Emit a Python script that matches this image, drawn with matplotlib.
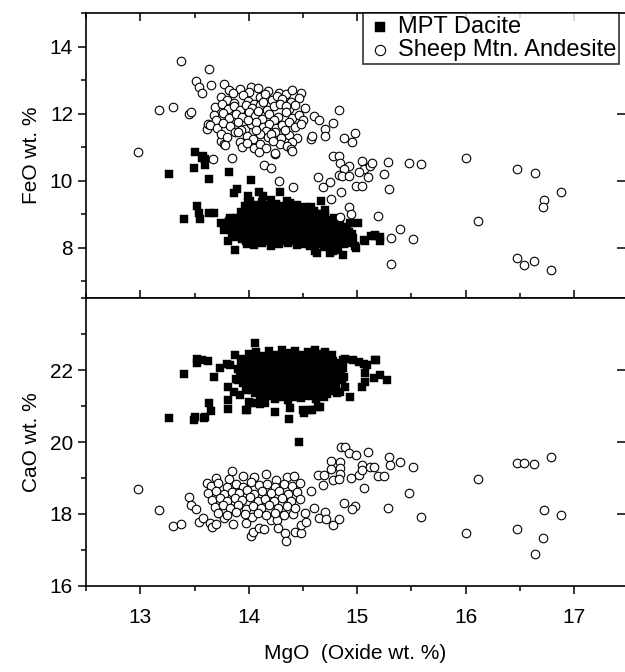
import matplotlib
matplotlib.use('Agg')
import matplotlib.pyplot as plt
from matplotlib.ticker import MultipleLocator

plt.rcParams['font.family'] = ['Liberation Sans', 'DejaVu Sans']

# MPT Dacite, FeO vs MgO
dacite_fe = [
    (13.50, 10.86), (13.58, 10.75), (13.60, 10.65), (13.57, 10.68), (13.60, 10.48), (13.49, 10.38),
    (13.26, 10.20), (13.63, 10.06), (13.82, 10.25), (14.02, 10.03), (13.86, 9.63), (13.89, 9.75),
    (13.99, 9.53), (14.09, 9.65), (14.13, 9.55), (14.29, 9.65), (13.40, 8.86), (13.52, 9.23),
    (13.54, 9.04), (13.55, 8.86), (13.63, 9.04), (13.68, 9.04), (13.74, 8.74), (13.81, 8.19),
    (13.87, 7.92), (13.83, 8.89), (13.89, 8.64), (13.92, 8.44), (13.98, 8.93), (14.67, 9.38),
    (14.70, 9.13), (14.93, 8.74), (15.01, 8.74), (14.98, 8.04), (15.07, 8.19), (15.13, 8.36),
    (15.21, 8.32), (15.21, 8.19), (14.87, 7.79), (14.81, 7.94), (14.63, 7.84), (14.75, 7.84),
    (15.06, 8.24), (15.16, 8.34), (14.61, 7.89), (14.78, 7.89), (14.99, 7.99), (15.16, 8.39),
    (14.01, 9.40), (13.96, 9.25),
    (13.99, 9.32), (14.05, 9.26), (14.12, 9.35), (14.18, 9.28), (14.25, 9.30), (14.31, 9.24),
    (14.38, 9.33), (14.44, 9.27), (14.52, 9.22), (14.20, 9.42), (14.35, 9.40),
    (14.02, 9.20), (14.09, 9.18), (14.15, 9.22), (14.21, 9.19), (14.28, 9.21), (14.34, 9.17),
    (14.41, 9.20), (14.47, 9.18), (14.57, 9.20),
    (13.93, 9.08), (14.00, 9.14), (14.06, 9.05), (14.12, 9.12), (14.18, 9.03), (14.24, 9.15),
    (14.30, 9.06), (14.36, 9.12), (14.42, 9.02), (14.48, 9.10), (14.54, 9.04), (14.60, 9.11),
    (14.66, 9.00),
    (13.96, 8.98), (14.03, 9.01), (14.09, 8.97), (14.15, 9.02), (14.21, 8.99), (14.27, 9.00),
    (14.33, 8.98), (14.39, 9.02), (14.45, 8.97), (14.51, 9.00), (14.57, 8.98), (14.63, 9.02),
    (14.70, 8.98),
    (13.88, 8.90), (13.95, 8.84), (14.01, 8.93), (14.07, 8.86), (14.13, 8.95), (14.19, 8.88),
    (14.25, 8.82), (14.31, 8.94), (14.37, 8.85), (14.43, 8.92), (14.49, 8.83), (14.55, 8.90),
    (14.61, 8.86), (14.67, 8.93), (14.73, 8.84), (14.79, 8.88),
    (13.82, 8.80), (13.91, 8.79), (13.98, 8.81), (14.04, 8.78), (14.10, 8.80), (14.16, 8.79),
    (14.22, 8.81), (14.28, 8.78), (14.34, 8.80), (14.40, 8.79), (14.46, 8.81), (14.52, 8.78),
    (14.58, 8.80), (14.64, 8.79), (14.70, 8.81), (14.76, 8.78), (14.84, 8.80),
    (13.79, 8.70), (13.85, 8.76), (13.92, 8.66), (13.98, 8.73), (14.04, 8.64), (14.10, 8.72),
    (14.16, 8.67), (14.22, 8.75), (14.28, 8.65), (14.34, 8.71), (14.40, 8.63), (14.46, 8.74),
    (14.52, 8.66), (14.58, 8.70), (14.64, 8.62), (14.70, 8.72), (14.76, 8.65), (14.82, 8.70),
    (14.88, 8.62),
    (13.81, 8.60), (13.88, 8.58), (13.95, 8.61), (14.01, 8.59), (14.07, 8.60), (14.13, 8.58),
    (14.19, 8.61), (14.25, 8.59), (14.31, 8.60), (14.37, 8.58), (14.43, 8.61), (14.49, 8.59),
    (14.55, 8.60), (14.61, 8.58), (14.67, 8.61), (14.73, 8.59), (14.79, 8.60), (14.85, 8.58),
    (14.91, 8.57),
    (13.77, 8.52), (13.84, 8.45), (13.90, 8.54), (13.96, 8.47), (14.02, 8.56), (14.08, 8.44),
    (14.14, 8.52), (14.20, 8.46), (14.26, 8.55), (14.32, 8.48), (14.38, 8.53), (14.44, 8.43),
    (14.50, 8.51), (14.56, 8.46), (14.62, 8.54), (14.68, 8.44), (14.74, 8.50), (14.80, 8.45),
    (14.86, 8.52), (14.92, 8.47),
    (13.88, 8.40), (13.93, 8.38), (13.99, 8.41), (14.05, 8.39), (14.11, 8.40), (14.17, 8.38),
    (14.23, 8.41), (14.29, 8.39), (14.35, 8.40), (14.41, 8.38), (14.47, 8.41), (14.53, 8.39),
    (14.59, 8.40), (14.65, 8.38), (14.71, 8.41), (14.77, 8.39), (14.83, 8.40), (14.89, 8.38),
    (14.95, 8.41),
    (13.86, 8.32), (13.94, 8.27), (14.00, 8.35), (14.06, 8.25), (14.12, 8.31), (14.18, 8.24),
    (14.24, 8.33), (14.30, 8.26), (14.36, 8.30), (14.42, 8.22), (14.48, 8.34), (14.54, 8.27),
    (14.60, 8.31), (14.66, 8.23), (14.72, 8.29), (14.78, 8.24), (14.84, 8.32), (14.90, 8.26),
    (14.96, 8.30),
    (13.97, 8.20), (14.03, 8.18), (14.09, 8.21), (14.15, 8.19), (14.21, 8.20), (14.27, 8.18),
    (14.33, 8.21), (14.39, 8.19), (14.45, 8.20), (14.51, 8.18), (14.57, 8.21), (14.63, 8.19),
    (14.69, 8.20), (14.75, 8.18), (14.81, 8.21), (14.87, 8.19), (14.93, 8.20),
    (13.98, 8.12), (14.05, 8.08), (14.12, 8.14), (14.20, 8.06), (14.28, 8.11), (14.36, 8.13),
    (14.44, 8.07), (14.50, 8.12), (14.56, 8.04), (14.63, 8.10), (14.69, 8.02), (14.75, 8.08),
    (14.82, 8.00), (14.88, 8.10), (14.94, 8.14),
]

# Sheep Mtn. Andesite, FeO vs MgO
andesite_fe = [
    (12.98, 10.86), (13.17, 12.12), (13.30, 12.19), (13.37, 13.56), (13.45, 12.00), (13.47, 12.05),
    (13.51, 12.96), (13.54, 12.80), (13.57, 12.61), (13.63, 13.33), (13.65, 12.84), (13.77, 12.87),
    (13.82, 12.69), (13.92, 12.74), (14.02, 12.79), (14.08, 12.76), (14.28, 12.62), (14.34, 12.57),
    (14.48, 12.60), (14.83, 12.11), (14.78, 11.71), (14.70, 11.54), (14.70, 11.34), (14.88, 11.26),
    (14.95, 11.15), (14.98, 11.42), (14.60, 11.93), (14.65, 11.82), (14.57, 11.24), (14.58, 11.32),
    (13.84, 10.67), (13.67, 10.64), (14.14, 10.48), (14.20, 10.38), (14.28, 9.98), (14.41, 9.82),
    (14.24, 10.80), (13.61, 11.54), (13.62, 11.70), (13.74, 11.17), (13.77, 11.10), (13.92, 11.15),
    (14.78, 10.73), (14.83, 10.73), (14.84, 10.53), (14.92, 10.43), (14.88, 10.35), (14.83, 10.18),
    (14.86, 10.13), (14.92, 10.15), (15.04, 10.58), (15.06, 10.35), (15.12, 10.45), (15.14, 10.53),
    (15.02, 10.26), (15.10, 10.11), (15.28, 10.55), (15.25, 10.21), (15.48, 10.52), (15.59, 10.50),
    (15.29, 9.74), (14.99, 9.85), (15.04, 9.83), (14.64, 10.10), (14.75, 9.95), (14.68, 9.80),
    (14.85, 9.65), (14.76, 9.45), (14.92, 9.21), (14.94, 9.01), (14.84, 8.92), (15.19, 8.96),
    (15.39, 8.55), (15.31, 8.30), (15.51, 8.25), (15.31, 7.50), (16.00, 10.67), (16.47, 10.34),
    (16.64, 10.22), (16.88, 9.67), (16.72, 9.41), (16.71, 9.20), (16.11, 8.81), (16.47, 7.68),
    (16.54, 7.48), (16.63, 7.60), (16.79, 7.34),
    (13.85, 12.62), (14.00, 12.65), (14.18, 12.68), (14.40, 12.70), (14.24, 12.32),
    (13.74, 12.50), (13.80, 12.41), (13.95, 12.55), (13.99, 12.38), (14.10, 12.48), (14.15, 12.58),
    (14.21, 12.40), (14.26, 12.52), (14.31, 12.44), (14.39, 12.35), (14.46, 12.47), (13.86, 12.33),
    (14.05, 12.30),
    (13.69, 12.20), (13.75, 12.28), (13.81, 12.15), (13.86, 12.24), (13.92, 12.12), (13.97, 12.27),
    (14.03, 12.18), (14.10, 12.25), (14.17, 12.10), (14.23, 12.22), (14.29, 12.30), (14.37, 12.14),
    (14.43, 12.26), (14.52, 12.18), (14.13, 12.36), (14.34, 12.22),
    (13.68, 11.95), (13.76, 12.03), (13.82, 11.88), (13.88, 11.99), (13.94, 11.90), (14.00, 12.04),
    (14.06, 11.93), (14.12, 11.85), (14.19, 12.00), (14.27, 11.91), (14.34, 12.05), (14.40, 11.87),
    (14.46, 11.97), (14.08, 12.08), (14.23, 11.80), (13.70, 11.80), (14.50, 11.80),
    (13.64, 11.66), (13.71, 11.58), (13.76, 11.72), (13.83, 11.62), (13.90, 11.75), (13.96, 11.55),
    (14.02, 11.68), (14.07, 11.76), (14.13, 11.60), (14.19, 11.70), (14.25, 11.57), (14.31, 11.66),
    (14.37, 11.74), (14.43, 11.59), (14.48, 11.68), (13.99, 11.81), (14.16, 11.48),
    (13.74, 11.38), (13.80, 11.30), (13.87, 11.44), (13.98, 11.33), (14.04, 11.25), (14.10, 11.40),
    (14.18, 11.30), (14.24, 11.45), (14.30, 11.28), (14.37, 11.37), (14.44, 11.26), (13.93, 11.50),
    (14.07, 11.50), (14.33, 11.50), (13.90, 11.45), (14.20, 11.38), (14.40, 11.15),
    (13.78, 11.05), (13.94, 11.00), (13.98, 11.12), (14.05, 10.98), (14.10, 11.08), (14.16, 10.96),
    (14.29, 11.10), (14.35, 11.02), (14.39, 10.94), (14.22, 11.18),
    (14.09, 10.85), (14.24, 10.82), (14.40, 10.88),
]

# MPT Dacite, CaO vs MgO (bottom panel)
dacite_ca = [
    (14.06, 22.74), (13.40, 21.89), (13.26, 20.66), (13.49, 20.61), (13.50, 20.70), (13.59, 20.66),
    (13.60, 20.70), (13.63, 21.07), (13.65, 20.86), (13.52, 22.32), (13.52, 22.20), (13.57, 22.28),
    (13.62, 22.25), (13.68, 21.80), (13.73, 22.05), (13.80, 22.18), (13.87, 22.42), (13.81, 21.54),
    (13.81, 21.17), (13.81, 20.91), (13.97, 20.89), (14.01, 21.07), (14.10, 21.06), (14.24, 20.84),
    (14.37, 20.65), (14.46, 20.01), (14.51, 20.81), (14.56, 20.89), (14.64, 20.96), (14.93, 21.24),
    (14.87, 22.28), (14.96, 22.28), (15.06, 22.17), (15.16, 22.28), (15.07, 21.93), (15.15, 21.77),
    (15.04, 21.54), (15.07, 21.68), (15.17, 22.28), (15.21, 21.86), (15.27, 21.72), (14.89, 22.32),
    (15.02, 22.23), (15.09, 22.14), (14.89, 21.54), (14.84, 21.40), (14.61, 22.56), (14.72, 22.37),
    (14.38, 20.94), (14.50, 20.89), (14.58, 20.89), (14.66, 20.98), (14.81, 21.35), (13.92, 21.30),
    (13.88, 21.75), (13.95, 22.30), (13.83, 22.14), (13.86, 21.40), (13.90, 21.72), (13.97, 21.44),
    (14.00, 21.12), (14.07, 21.07), (14.15, 21.07), (13.98, 20.89), (14.01, 22.32), (14.10, 22.32),
    (14.00, 22.44), (14.07, 22.50), (14.13, 22.40), (14.19, 22.52), (14.25, 22.43), (14.31, 22.55),
    (14.37, 22.46), (14.43, 22.52), (14.49, 22.41), (14.55, 22.49), (14.63, 22.44), (14.70, 22.50),
    (14.77, 22.42),
    (14.03, 22.36), (14.09, 22.34), (14.15, 22.37), (14.21, 22.35), (14.27, 22.36), (14.33, 22.34),
    (14.39, 22.37), (14.45, 22.35), (14.51, 22.36), (14.57, 22.34), (14.66, 22.35), (14.75, 22.34),
    (13.93, 22.22), (13.99, 22.28), (14.05, 22.20), (14.11, 22.30), (14.17, 22.23), (14.23, 22.29),
    (14.29, 22.19), (14.35, 22.27), (14.41, 22.21), (14.47, 22.30), (14.53, 22.24), (14.59, 22.18),
    (14.65, 22.28), (14.71, 22.22), (14.78, 22.26), (14.84, 22.19),
    (13.96, 22.15), (14.02, 22.13), (14.08, 22.16), (14.14, 22.14), (14.20, 22.15), (14.26, 22.13),
    (14.32, 22.16), (14.38, 22.14), (14.44, 22.15), (14.50, 22.13), (14.56, 22.16), (14.62, 22.14),
    (14.68, 22.15), (14.75, 22.13), (14.81, 22.12),
    (13.90, 22.02), (13.96, 22.08), (14.02, 22.00), (14.08, 22.09), (14.14, 22.03), (14.20, 21.98),
    (14.26, 22.07), (14.32, 22.01), (14.38, 22.10), (14.44, 22.02), (14.50, 22.06), (14.56, 21.99),
    (14.62, 22.08), (14.68, 22.03), (14.74, 22.09), (14.80, 22.00), (14.87, 22.05),
    (13.95, 21.95), (14.01, 21.93), (14.07, 21.96), (14.13, 21.94), (14.19, 21.95), (14.25, 21.93),
    (14.31, 21.96), (14.37, 21.94), (14.43, 21.95), (14.49, 21.93), (14.55, 21.96), (14.61, 21.94),
    (14.67, 21.95), (14.73, 21.93), (14.79, 21.96), (14.85, 21.94),
    (13.92, 21.84), (13.98, 21.90), (14.04, 21.81), (14.10, 21.88), (14.16, 21.80), (14.22, 21.91),
    (14.28, 21.83), (14.34, 21.89), (14.40, 21.79), (14.46, 21.87), (14.52, 21.82), (14.58, 21.90),
    (14.64, 21.81), (14.70, 21.88), (14.76, 21.83), (14.82, 21.89), (14.88, 21.80),
    (13.96, 21.75), (14.02, 21.73), (14.08, 21.76), (14.14, 21.74), (14.20, 21.75), (14.26, 21.73),
    (14.32, 21.76), (14.38, 21.74), (14.44, 21.75), (14.50, 21.73), (14.56, 21.76), (14.62, 21.74),
    (14.68, 21.75), (14.74, 21.73), (14.80, 21.76), (14.86, 21.72),
    (13.95, 21.63), (14.01, 21.69), (14.07, 21.60), (14.13, 21.67), (14.19, 21.61), (14.25, 21.70),
    (14.31, 21.62), (14.37, 21.68), (14.43, 21.59), (14.49, 21.66), (14.55, 21.62), (14.61, 21.70),
    (14.67, 21.60), (14.73, 21.66), (14.80, 21.62),
    (13.99, 21.55), (14.05, 21.53), (14.11, 21.56), (14.17, 21.54), (14.23, 21.55), (14.29, 21.53),
    (14.35, 21.56), (14.41, 21.54), (14.47, 21.55), (14.53, 21.53), (14.59, 21.56), (14.65, 21.54),
    (14.71, 21.55), (14.77, 21.53),
    (14.02, 21.44), (14.08, 21.49), (14.14, 21.41), (14.20, 21.47), (14.26, 21.39), (14.32, 21.48),
    (14.38, 21.42), (14.44, 21.46), (14.50, 21.38), (14.56, 21.45), (14.62, 21.40), (14.68, 21.48),
    (14.75, 21.42),
    (14.06, 21.35), (14.12, 21.33), (14.18, 21.36), (14.24, 21.34), (14.30, 21.35), (14.36, 21.33),
    (14.42, 21.36), (14.48, 21.34), (14.54, 21.35), (14.60, 21.33), (14.66, 21.36), (14.72, 21.34),
    (14.10, 21.24), (14.17, 21.28), (14.24, 21.20), (14.30, 21.26), (14.36, 21.18), (14.42, 21.25),
    (14.48, 21.21), (14.55, 21.27), (14.62, 21.19), (14.69, 21.24),
]

# Sheep Mtn. Andesite, CaO vs MgO
andesite_ca = [
    (12.98, 18.69), (13.17, 18.11), (13.30, 17.68), (13.37, 17.72), (13.45, 18.46), (13.47, 18.25),
    (13.51, 18.13), (13.54, 17.77), (13.58, 17.90), (13.61, 18.85), (13.64, 17.76), (13.66, 17.65),
    (13.70, 17.72), (13.84, 19.20), (13.85, 17.72), (13.77, 17.88), (13.97, 17.74), (14.03, 17.92),
    (14.02, 17.39), (14.04, 17.51), (14.09, 17.60), (14.14, 17.57), (14.20, 17.83), (14.26, 17.83),
    (14.27, 17.60), (14.33, 17.46), (14.34, 17.26), (14.41, 18.00), (14.43, 17.49), (14.48, 17.48),
    (14.48, 17.69), (14.53, 17.79), (14.52, 18.02), (14.57, 18.64), (14.60, 18.18), (14.64, 19.08),
    (14.69, 19.08), (14.65, 17.90), (14.70, 18.06), (14.71, 17.85), (14.68, 18.81), (14.76, 19.48),
    (14.76, 19.24), (14.78, 18.94), (14.84, 19.45), (14.84, 19.27), (14.84, 19.11), (14.83, 18.97),
    (14.85, 19.87), (14.89, 19.85), (14.92, 19.70), (14.99, 19.64), (14.78, 17.69), (14.83, 17.85),
    (14.88, 18.30), (14.98, 18.23), (14.95, 18.13), (14.94, 18.99), (15.02, 19.08), (15.04, 19.36),
    (15.04, 19.22), (15.06, 18.71), (15.10, 19.73), (15.12, 19.30), (15.15, 19.30), (15.19, 19.06),
    (15.25, 19.06), (15.29, 19.57), (15.30, 19.37), (15.39, 19.44), (15.51, 19.31), (15.48, 18.59),
    (15.28, 18.18), (15.59, 17.91), (16.11, 18.98), (16.00, 17.46), (16.47, 19.43), (16.54, 19.43),
    (16.63, 19.39), (16.79, 19.57), (16.72, 18.12), (16.88, 17.98), (16.47, 17.57), (16.71, 17.33),
    (16.64, 16.89),
    (13.70, 19.00), (13.82, 18.98), (13.95, 19.05), (14.05, 19.02), (14.16, 19.10), (14.25, 18.95),
    (14.35, 19.02), (14.42, 19.05),
    (13.65, 18.78), (13.72, 18.85), (13.80, 18.75), (13.88, 18.82), (13.95, 18.76), (14.02, 18.88),
    (14.09, 18.80), (14.17, 18.84), (14.24, 18.74), (14.32, 18.82), (14.40, 18.77), (14.47, 18.85),
    (13.62, 18.58), (13.70, 18.64), (13.77, 18.55), (13.84, 18.62), (13.91, 18.57), (13.98, 18.66),
    (14.05, 18.55), (14.12, 18.63), (14.20, 18.57), (14.28, 18.65), (14.36, 18.55), (14.44, 18.62),
    (13.66, 18.40), (13.73, 18.45), (13.80, 18.36), (13.87, 18.44), (13.94, 18.38), (14.01, 18.46),
    (14.08, 18.35), (14.15, 18.43), (14.23, 18.37), (14.31, 18.44), (14.39, 18.36), (14.47, 18.42),
    (13.69, 18.20), (13.76, 18.26), (13.83, 18.17), (13.90, 18.24), (13.97, 18.15), (14.04, 18.22),
    (14.11, 18.18), (14.19, 18.25), (14.27, 18.16), (14.35, 18.22), (14.43, 18.18),
    (13.72, 18.02), (13.80, 17.97), (13.88, 18.05), (13.96, 17.99), (14.08, 18.04), (14.16, 17.96),
    (14.24, 18.03), (14.32, 17.98),
]

fig = plt.figure(figsize=(6.25, 6.72), dpi=100)
ax1 = fig.add_axes([0.138, 0.5565, 0.862, 0.4242])
ax2 = fig.add_axes([0.138, 0.128, 0.862, 0.4285])

sq = dict(marker='s', s=40, c='black', edgecolors='black', linewidths=0.3, zorder=3)
circ = dict(marker='o', s=38, facecolors='white', edgecolors='black', linewidths=0.8, zorder=4)

ax1.scatter([p[0] for p in dacite_fe], [p[1] for p in dacite_fe], label='MPT Dacite', **sq)
ax1.scatter([p[0] for p in andesite_fe], [p[1] for p in andesite_fe], label='Sheep Mtn. Andesite', **circ)
ax2.scatter([p[0] for p in dacite_ca], [p[1] for p in dacite_ca], **sq)
ax2.scatter([p[0] for p in andesite_ca], [p[1] for p in andesite_ca], **circ)

for ax in (ax1, ax2):
    ax.set_xlim(12.5, 17.47)
    ax.xaxis.set_major_locator(MultipleLocator(1))
    ax.xaxis.set_minor_locator(MultipleLocator(0.5))
    ax.yaxis.set_minor_locator(MultipleLocator(1))
    for sp in ax.spines.values():
        sp.set_linewidth(1.2)
    ax.spines['right'].set_visible(False)
    ax.tick_params(which='both', labelsize=15, width=1.1)
    ax.tick_params(which='major', length=6)
    ax.tick_params(which='minor', length=3.5)

ax1.set_ylim(6.5, 15)
ax1.set_yticks([8, 10, 12, 14])
ax1.tick_params(axis='x', which='both', direction='in', top=True, bottom=True, labelbottom=False)
ax1.tick_params(axis='y', which='both', direction='out', left=True)
ax1.set_ylabel('FeO wt. %', fontsize=15, labelpad=6)

ax2.set_ylim(16, 24)
ax2.set_yticks([16, 18, 20, 22])
ax2.tick_params(axis='x', which='both', direction='out', top=False, pad=10)
ax2.tick_params(axis='y', which='both', direction='out', left=True)
ax2.set_ylabel('CaO wt. %', fontsize=15, labelpad=6)
ax2.set_xlabel('MgO  (Oxide wt. %)', fontsize=15, labelpad=12)

# right-side mirrored ticks pointing inward (major only)
for ax, ticks in ((ax1, [8, 10, 12]), (ax2, [18, 20, 22])):
    sec = ax.secondary_yaxis('right')
    sec.set_yticks(ticks)
    sec.tick_params(direction='in', length=6, width=1.1, labelright=False)
    sec.spines['right'].set_visible(False)

leg = ax1.legend(loc='upper left', bbox_to_anchor=(0.514, 1.0), borderaxespad=0,
                 fontsize=17, frameon=True, fancybox=False, handletextpad=0.15,
                 handlelength=1.2, borderpad=0.12, labelspacing=0.05, markerscale=1.2)
leg.get_frame().set_edgecolor('black')
leg.get_frame().set_linewidth(1.2)

plt.savefig('out.png', dpi=100)
